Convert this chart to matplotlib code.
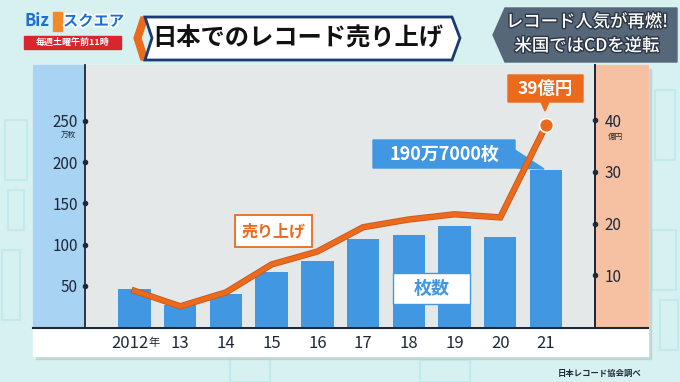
import numpy as np
import matplotlib
matplotlib.use("Agg")
import matplotlib.pyplot as plt
from matplotlib.patches import Rectangle, Polygon
import matplotlib.patheffects as pe

plt.rcParams['font.family'] = ['Noto Sans CJK JP', 'DejaVu Sans']

# data
years = ["2012", "13", "14", "15", "16", "17", "18", "19", "20", "21"]
discs = [45.7, 26.8, 40.1, 66.2, 79.9, 106.3, 111.6, 122.1, 109.1, 190.7]  # 万枚
sales = [7.0, 4.0, 6.7, 12.1, 14.6, 19.3, 20.8, 21.8, 21.2, 39.0]         # 億円
left_ticks = [50, 100, 150, 200, 250]
right_ticks = [10, 20, 30, 40]

BLUE = '#4297e2'
ORANGE = '#ec6a1c'
DARK = '#1d2838'
W, H = 680, 382

fig = plt.figure(figsize=(W / 100, H / 100), dpi=100, facecolor='#d7f1f1')

# background / decoration layer in pixel coordinates
deco = fig.add_axes([0, 0, 1, 1], zorder=0)
deco.set_xlim(0, W)
deco.set_ylim(H, 0)
deco.set_axis_off()

# faint building shapes in the background
for (x, y, w, h) in [(5, 120, 22, 60), (2, 250, 18, 70), (655, 90, 20, 70), (652, 230, 24, 60),
                     (230, 358, 40, 24), (420, 360, 50, 22), (660, 300, 18, 50), (8, 190, 16, 40)]:
    deco.add_patch(Rectangle((x, y), w, h, fill=False, ec='#c2eaea', lw=1.5))

# card shadow + card
deco.add_patch(Rectangle((36, 69), 615, 290, color='#b3c9c9', alpha=0.6))
deco.add_patch(Rectangle((33, 65), 615, 291, color='white'))
deco.add_patch(Rectangle((33, 65), 52, 262, color='#a9d3f3'))
deco.add_patch(Rectangle((595, 65), 53, 262, color='#f6c1a2'))
deco.plot([33, 648], [327.5, 327.5], color=DARK, lw=1.5)

# logo
deco.text(25, 21, "Biz", color='#1f6fd0', fontsize=12, fontweight='bold',
          fontstyle='italic', va='center', ha='left')
deco.add_patch(Rectangle((53, 12), 9, 19, color='#f08a2a'))
deco.text(63, 21, "スクエア", color='#1f6fd0', fontsize=11, fontweight='bold', va='center', ha='left',
          path_effects=[pe.withStroke(linewidth=2.5, foreground='white')])
deco.add_patch(Rectangle((24, 36), 97, 13, color='#d8262c'))
deco.text(72.5, 42.5, "毎週土曜午前11時", color='white', fontsize=6.5, fontweight='bold',
          va='center', ha='center')

# title box
deco.add_patch(Polygon([(134, 38), (141, 17), (148, 17), (141, 38), (148, 60), (141, 60)],
                       closed=True, color=ORANGE))
deco.add_patch(Polygon([(145, 17), (452, 17), (460, 38), (452, 60), (145, 60), (152, 38)],
                       closed=True, fc='white', ec='#1b3a72', lw=2))
deco.text(298, 38.5, "日本でのレコード売り上げ", fontsize=17.5, fontweight='bold',
          color='#111111', va='center', ha='center')

# right caption box
deco.add_patch(Polygon([(505, 8), (677, 8), (677, 62), (505, 62), (493, 35)],
                       closed=True, color='#56677a'))
for txt, y in [("レコード人気が再燃!", 22), ("米国ではCDを逆転", 46)]:
    deco.text(587, y, txt, fontsize=12.5, fontweight='medium', color='white', va='center',
              ha='center', path_effects=[pe.withStroke(linewidth=2, foreground='#2b3644')])

# source
deco.text(600, 373, "日本レコード協会調べ", fontsize=6, fontweight='bold', color=DARK,
          va='center', ha='center')

# main chart
ax = fig.add_axes([85 / W, (H - 327) / H, 510 / W, 262 / H], zorder=1)
ax.set_facecolor('#e4e8e8')
x = np.arange(len(years))
step = 45.7
ax.set_xlim(-(134.5 - 85) / step, 9 + (595 - 546) / step)
ax.set_ylim(0, 262 / 41.2 * 50)
ax.bar(x, discs, width=0.71, color=BLUE, zorder=2)

for s in ['top', 'bottom']:
    ax.spines[s].set_visible(False)
for s in ['left', 'right']:
    ax.spines[s].set_color(DARK)
    ax.spines[s].set_linewidth(1.3)
ax.set_xticks([])
ax.set_yticks(left_ticks)
ax.tick_params(axis='y', length=0, pad=5, labelsize=11, labelcolor=DARK)
ax.scatter([0] * len(left_ticks), left_ticks, s=9, color=DARK, zorder=5, clip_on=False,
           transform=ax.get_yaxis_transform())
ax.text((68 - 85) / 510, 250 - 12, "万枚", transform=ax.get_yaxis_transform(), fontsize=5.5,
        color=DARK, ha='center', va='top')

# x labels
xt = ax.get_xaxis_transform()
for i, lab in enumerate(years):
    if i == 0:
        ax.text(i + 0.3, -0.062, lab, transform=xt, fontsize=12, color=DARK, ha='right', va='center')
        ax.text(i + 0.3, -0.062, "年", transform=xt, fontsize=8, color=DARK, ha='left', va='center')
    else:
        ax.text(i, -0.062, lab, transform=xt, fontsize=12, color=DARK, ha='center', va='center')

# sales line on the right axis
ax2 = ax.twinx()
ax2.set_ylim(0, 262 / 5.17)
for s in ['top', 'bottom', 'left']:
    ax2.spines[s].set_visible(False)
ax2.spines['right'].set_color(DARK)
ax2.spines['right'].set_linewidth(1.3)
ax2.set_yticks(right_ticks)
ax2.tick_params(axis='y', length=0, pad=7, labelsize=11, labelcolor=DARK)
ax2.scatter([1] * len(right_ticks), right_ticks, s=9, color=DARK, zorder=5, clip_on=False,
            transform=ax2.get_yaxis_transform())
ax2.text((615 - 85) / 510, 40 - 2.4, "億円", transform=ax2.get_yaxis_transform(), fontsize=5.5,
         color=DARK, ha='center', va='top')
ax2.plot(x, sales, color=ORANGE, lw=3.4, solid_joinstyle='miter', zorder=3,
         path_effects=[pe.Stroke(linewidth=4.6, foreground='#c8561a'), pe.Normal()])
ax2.plot(x[-1], sales[-1], 'o', ms=10, color=ORANGE, mec='white', mew=1.2, zorder=4)

# annotation boxes (pixel coordinates)
pt = deco.transData
ax.add_patch(Polygon([(373, 140), (515, 140), (515, 150), (544, 169), (515, 168), (373, 168)],
                     closed=True, color=BLUE, transform=pt, clip_on=False, zorder=3))
ax.text(444, 154, "190万7000枚", transform=pt, fontsize=13, fontweight='bold', color='white',
        ha='center', va='center', zorder=4)
ax.add_patch(Rectangle((393, 273), 77, 31, fc='white', ec=BLUE, lw=1, transform=pt,
                       clip_on=False, zorder=4))
ax.text(431.5, 288.5, "枚数", transform=pt, fontsize=13, fontweight='bold', color=BLUE,
        ha='center', va='center', zorder=5)
ax.add_patch(Rectangle((235, 215), 77, 32, fc='white', ec=ORANGE, lw=1.3, transform=pt,
                       clip_on=False, zorder=4))
ax.text(273.5, 231, "売り上げ", transform=pt, fontsize=11.5, fontweight='bold', color=ORANGE,
        ha='center', va='center', zorder=5)
ax2.add_patch(Polygon([(508, 75), (583, 75), (583, 102), (549, 102), (545, 111), (541, 102), (508, 102)],
                      closed=True, color=ORANGE, transform=pt, clip_on=False, zorder=5))
ax2.text(545.5, 88.5, "39億円", transform=pt, fontsize=12.5, fontweight='bold', color='white',
         ha='center', va='center', zorder=6)

fig.savefig("out.png", dpi=100, facecolor=fig.get_facecolor())
